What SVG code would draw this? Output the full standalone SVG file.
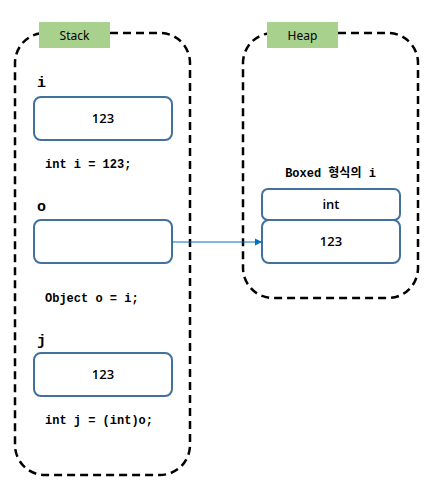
<svg xmlns="http://www.w3.org/2000/svg" width="447" height="495" viewBox="0 0 447 495">
<style>
.region{fill:none;stroke:#000;stroke-width:2.5;stroke-dasharray:8,5}
.tag{fill:#a9d18e}
.tagt{font-family:"Noto Sans","Open Sans",sans-serif;font-size:12px;fill:#000;text-anchor:middle}
.box{fill:#fff;stroke:#41719c;stroke-width:2}
.val{font-family:"Open Sans","Noto Sans",sans-serif;font-size:13px;font-weight:600;fill:#000;text-anchor:middle}
.code{font-family:"Liberation Mono","DejaVu Sans Mono","Noto Sans CJK KR",monospace;font-size:12px;font-weight:bold;fill:#000}
.var{font-family:"Liberation Mono","DejaVu Sans Mono",monospace;font-size:15px;font-weight:bold;fill:#000}
</style>
<defs>
<marker id="ah" markerWidth="8" markerHeight="8" refX="7" refY="4" orient="auto" markerUnits="userSpaceOnUse">
<path d="M0,0.5 L7,4 L0,7.5 Z" fill="#0070c0"/>
</marker>
</defs>
<g id="stack">
<rect class="region" x="15" y="33" width="175" height="442" rx="30" ry="30"/>
<rect class="tag" x="39" y="22" width="71" height="26"/>
<text class="tagt" x="74.5" y="39.5">Stack</text>
</g>
<g id="heap">
<rect class="region" x="243" y="33" width="175" height="265" rx="30" ry="30"/>
<rect class="tag" x="267" y="22" width="71" height="26"/>
<text class="tagt" x="302.5" y="39.5">Heap</text>
</g>
<g id="var-i">
<text class="var" x="37" y="87">i</text>
<rect class="box" x="34" y="97" width="138" height="43" rx="7"/>
<text class="val" x="103" y="123">123</text>
<text class="code" x="45" y="168">int i = 123;</text>
</g>
<g id="var-o">
<text class="var" x="37" y="211">o</text>
<rect class="box" x="34" y="220" width="138" height="43" rx="7"/>
<text class="code" x="45" y="302">Object o = i;</text>
</g>
<g id="var-j">
<text class="var" x="37" y="345">j</text>
<rect class="box" x="34" y="353" width="138" height="43" rx="7"/>
<text class="val" x="103" y="379">123</text>
<text class="code" x="45" y="424">int j = (int)o;</text>
</g>
<g id="boxed">
<text class="code" x="330.5" y="177" text-anchor="middle">Boxed 형식의 i</text>
<rect class="box" x="262" y="189" width="138" height="31" rx="6"/>
<text class="val" x="331" y="209">int</text>
<rect class="box" x="262" y="220" width="138" height="43" rx="7"/>
<text class="val" x="331" y="246">123</text>
</g>
<g id="connectors">
<line x1="172" y1="242" x2="262" y2="242" stroke="#0070c0" stroke-width="1.2" marker-end="url(#ah)"/>
</g>
</svg>
